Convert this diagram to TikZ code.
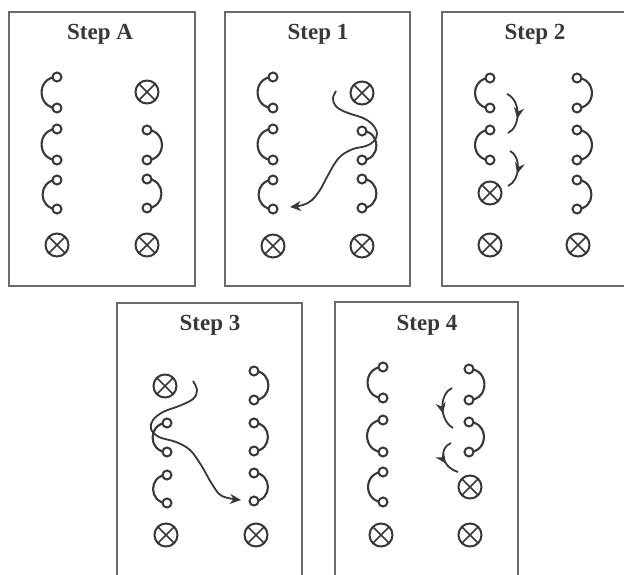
\documentclass[tikz,border=0pt]{standalone}
\usepackage{fontspec}
\setmainfont{Liberation Serif}
\usetikzlibrary{arrows.meta,decorations.markings}
\pgfdeclarelayer{bg}
\pgfsetlayers{bg,main}
\definecolor{ink}{HTML}{383838}
\definecolor{frame}{HTML}{6A6A6A}
\tikzset{
  ring/.style={circle, draw=ink, line width=2pt, fill=white, inner sep=0pt, minimum size=9pt},
  xring/.style={circle, draw=ink, line width=2pt, fill=white, inner sep=0pt, minimum size=23pt,
    path picture={\draw[ink,line width=1.6pt]
      (path picture bounding box.north west) -- (path picture bounding box.south east)
      (path picture bounding box.south west) -- (path picture bounding box.north east);}},
  panel/.style={draw=frame, line width=2.6pt},
  title/.style={font=\bfseries\fontsize{23}{27}\selectfont, text=ink},
  hookline/.style={draw=ink, line width=2.1pt, looseness=1.7},
  swirl/.style={draw=ink, line width=1.8pt, -{Stealth[length=11pt,width=10pt]}},
  midarrow/.style={draw=ink, line width=1.8pt, postaction={decorate},
    decoration={markings, mark=at position 0.62 with {\arrow{Stealth[length=11pt,width=10pt]}}}}
}
\newcommand\hookpair[5]{%
  \node[ring] (#1t) at (#2,#3) {};
  \node[ring] (#1b) at (#2,#4) {};
  \begin{pgfonlayer}{bg}
    \draw[hookline] (#1t.center) to[out=#5,in=#5] (#1b.center);
  \end{pgfonlayer}}
\newcommand\xr[3]{\node[xring] (#1) at (#2,#3) {};}
\begin{document}
\begin{tikzpicture}[x=1pt,y=-1pt]
\useasboundingbox (0,0) rectangle (624,575);
\clip (0,0) rectangle (624,575);

% ---------- Step A ----------
\draw[panel] (9,12) rectangle (195,286);
\node[title] (tA) at (100,34) {Step A};
\hookpair{aL1}{57}{77}{108}{180}
\hookpair{aL2}{57}{129}{160}{180}
\hookpair{aL3}{57}{180}{209}{180}
\xr{aLx}{57}{245}
\xr{aRx1}{147}{92}
\hookpair{aR2}{147}{130}{160}{0}
\hookpair{aR3}{147}{179}{208}{0}
\xr{aRx2}{147}{245}

% ---------- Step 1 ----------
\draw[panel] (225,12) rectangle (410,286);
\node[title] (t1) at (318,34) {Step 1};
\hookpair{bL1}{273}{77}{108}{180}
\hookpair{bL2}{273}{129}{160}{180}
\hookpair{bL3}{273}{180}{209}{180}
\xr{bLx}{273}{246}
\xr{bRx1}{362}{93}
\hookpair{bR2}{362}{131}{160}{0}
\hookpair{bR3}{362}{179}{208}{0}
\xr{bRx2}{362}{246}
\coordinate (bS) at (336,91);
\coordinate (bE) at (290,207);
\draw[swirl] plot[smooth, tension=0.6] coordinates {(bS) (333,98) (335,105) (341,110) (351,114) (363,118) (372,124) (377,133) (374,141) (366,146) (353,149) (342,155) (335,163) (327,177) (320,190) (312,200) (303,205) (bE)};

% ---------- Step 2 ----------
\draw[panel] (442,12) rectangle (630,286);
\node[title] (t2) at (535,34) {Step 2};
\hookpair{cL1}{490}{78}{108}{180}
\hookpair{cL2}{490}{130}{160}{180}
\xr{cLx1}{490}{193}
\xr{cLx2}{490}{245}
\hookpair{cR1}{577}{78}{108}{0}
\hookpair{cR2}{577}{130}{160}{0}
\hookpair{cR3}{577}{180}{209}{0}
\xr{cRx}{578}{245}
\coordinate (cA1s) at (507,94);
\coordinate (cA1e) at (508,133);
\coordinate (cA2s) at (510,151);
\coordinate (cA2e) at (508,186);
\draw[midarrow] (cA1s) .. controls (521,100) and (521,127) .. (cA1e);
\draw[midarrow] (cA2s) .. controls (521,156) and (521,180) .. (cA2e);

% ---------- Step 3 ----------
\draw[panel] (117,303) rectangle (302,600);
\node[title] (t3) at (210,325) {Step 3};
\xr{dLx1}{165}{386}
\hookpair{dL2}{167}{423}{452}{180}
\hookpair{dL3}{167}{475}{503}{180}
\xr{dLx2}{166}{535}
\hookpair{dR1}{254}{371}{400}{0}
\hookpair{dR2}{254}{423}{451}{0}
\hookpair{dR3}{254}{473}{501}{0}
\xr{dRx}{256}{535}
\coordinate (dS) at (193,381);
\coordinate (dE) at (241,500);
\draw[swirl] plot[smooth, tension=0.6] coordinates {(dS) (197,390) (193,399) (179,406) (163,412) (153,420) (151,429) (159,437) (176,442) (190,450) (201,465) (212,484) (222,496) (dE)};

% ---------- Step 4 ----------
\draw[panel] (335,302) rectangle (518,600);
\node[title] (t4) at (427,325) {Step 4};
\hookpair{eL1}{383}{367}{398}{180}
\hookpair{eL2}{383}{420}{452}{180}
\hookpair{eL3}{383}{472}{502}{180}
\xr{eLx}{381}{535}
\hookpair{eR1}{469}{369}{400}{0}
\hookpair{eR2}{469}{422}{452}{0}
\xr{eRx1}{470}{487}
\xr{eRx2}{470}{535}
\coordinate (eA1s) at (452,388);
\coordinate (eA1e) at (453,428);
\coordinate (eA2s) at (451,443);
\coordinate (eA2e) at (458,472);
\draw[midarrow] (eA1s) .. controls (439,394) and (439,420) .. (eA1e);
\draw[midarrow] (eA2s) .. controls (439,448) and (440,466) .. (eA2e);
\end{tikzpicture}
\end{document}
